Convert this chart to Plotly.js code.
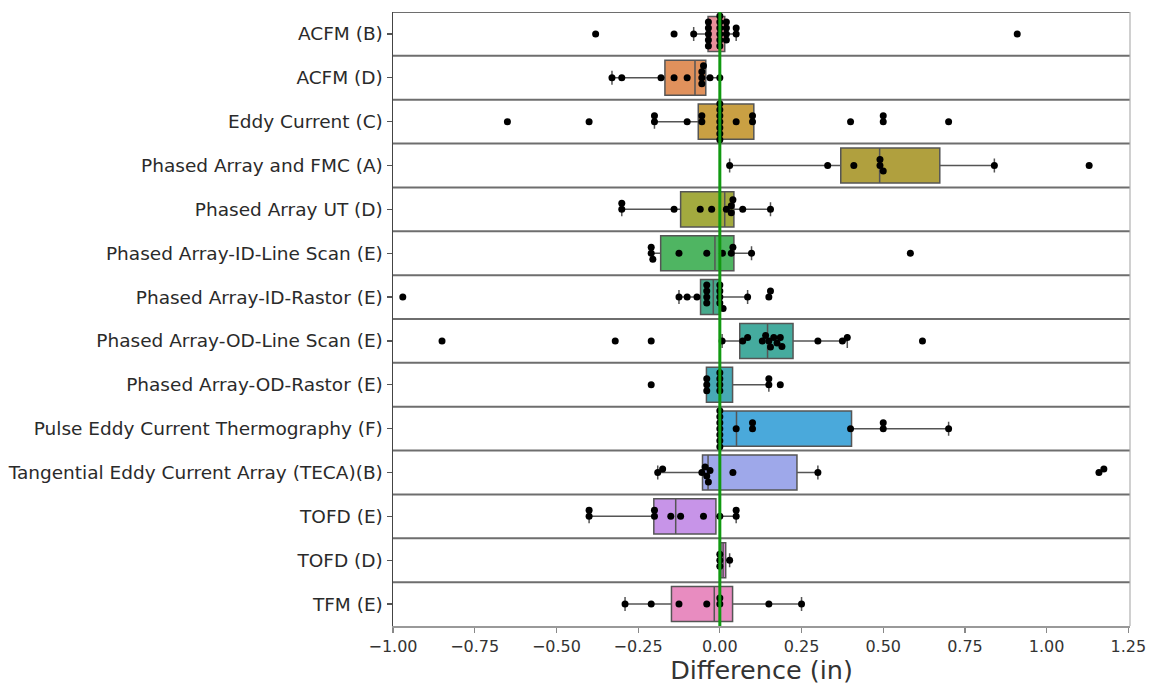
<!DOCTYPE html>
<html>
<head>
<meta charset="utf-8">
<script src="https://cdn.plot.ly/plotly-3.0.1.min.js"></script>
<style>html,body{margin:0;padding:0;background:#fff;}#chart{width:1154px;height:685px;}</style>
</head>
<body>
<div id="chart"></div>
<script>
const categories = [
  "ACFM (B)", "ACFM (D)", "Eddy Current (C)", "Phased Array and FMC (A)",
  "Phased Array UT (D)", "Phased Array-ID-Line Scan (E)", "Phased Array-ID-Rastor (E)",
  "Phased Array-OD-Line Scan (E)", "Phased Array-OD-Rastor (E)",
  "Pulse Eddy Current Thermography (F)", "Tangential Eddy Current Array (TECA)(B)",
  "TOFD (E)", "TOFD (D)", "TFM (E)"
];

const pointsACFMB = [-0.38, -0.14, -0.08, -0.035, -0.035, -0.035, -0.035, -0.035, 0.0, 0.0, 0.0, 0.0, 0.0, 0.0, 0.02, 0.02, 0.02, 0.02, 0.05, 0.05, 0.91];
const pointsACFMD = [-0.33, -0.30, -0.18, -0.14, -0.10, -0.055, -0.055, -0.055, -0.05, -0.03, 0.0];
const pointsEddyC = [-0.65, -0.40, -0.20, -0.20, -0.10, -0.055, -0.055, 0, 0, 0, 0, 0, 0, 0, 0.05, 0.10, 0.10, 0.40, 0.50, 0.50, 0.70];
const pointsPAFMC = [0.03, 0.33, 0.41, 0.49, 0.49, 0.50, 0.84, 1.13];
const pointsPAUT = [-0.30, -0.30, -0.14, -0.06, -0.025, 0.02, 0.035, 0.035, 0.04, 0.07, 0.155];
const pointsPAIDLine = [-0.21, -0.21, -0.205, -0.125, -0.04, 0.008, 0.035, 0.04, 0.097, 0.583];
const pointsPAIDRastor = [-0.97, -0.125, -0.10, -0.07, -0.04, -0.04, -0.04, -0.04, 0.0, 0.0, 0.0, 0.0, 0.01, 0.085, 0.15, 0.155];
const pointsPAODLine = [-0.85, -0.32, -0.21, 0.007, 0.07, 0.085, 0.13, 0.14, 0.15, 0.155, 0.165, 0.175, 0.185, 0.19, 0.30, 0.375, 0.39, 0.62];
const pointsPAODRastor = [-0.21, -0.04, -0.04, -0.04, 0, 0, 0, 0, 0.15, 0.15, 0.185];
const pointsPulseEddy = [0, 0, 0, 0, 0, 0, 0, 0.05, 0.10, 0.10, 0.40, 0.50, 0.50, 0.70];
const pointsTECA = [-0.19, -0.175, -0.055, -0.045, -0.04, -0.035, -0.03, 0.04, 0.30, 1.16, 1.175];
const pointsTOFDE = [-0.40, -0.40, -0.20, -0.20, -0.15, -0.12, -0.05, 0.0, 0.05, 0.05];
const pointsTOFDD = [0.0, 0.0, 0.0, 0.03];
const pointsTFME = [-0.29, -0.21, -0.125, -0.04, 0.0, 0.0, 0.15, 0.25];

const allPoints = [pointsACFMB, pointsACFMD, pointsEddyC, pointsPAFMC, pointsPAUT, pointsPAIDLine,
  pointsPAIDRastor, pointsPAODLine, pointsPAODRastor, pointsPulseEddy, pointsTECA, pointsTOFDE, pointsTOFDD, pointsTFME];

const q1Values     = [-0.036, -0.168, -0.066, 0.37, -0.12, -0.181, -0.059, 0.061, -0.041, 0.0, -0.053, -0.202, 0.003, -0.148];
const medianValues = [0.0, -0.076, 0.0, 0.489, 0.015, -0.015, -0.02, 0.146, 0.0, 0.051, -0.036, -0.135, 0.01, -0.017];
const q3Values     = [0.015, -0.043, 0.104, 0.673, 0.043, 0.043, 0.0, 0.224, 0.039, 0.403, 0.236, -0.012, 0.018, 0.039];
const lowerValues  = [-0.08, -0.33, -0.20, 0.03, -0.30, -0.21, -0.125, 0.007, -0.041, 0.0, -0.19, -0.40, 0.0, -0.29];
const upperValues  = [0.05, 0.0, 0.104, 0.84, 0.155, 0.097, 0.085, 0.39, 0.15, 0.70, 0.30, 0.05, 0.03, 0.25];

const xTicks = [-1.0, -0.75, -0.5, -0.25, 0.0, 0.25, 0.5, 0.75, 1.0, 1.25];
const xTickLabels = ["\u22121.00", "\u22120.75", "\u22120.50", "\u22120.25", "0.00", "0.25", "0.50", "0.75", "1.00", "1.25"];

const boxColors = ["#e8909a", "#e0915c", "#c9a043", "#b0a03e", "#a3aa3f", "#4fb562", "#47a98c",
  "#45ab9e", "#47a9b5", "#4aa9db", "#9ea8ea", "#c794e8", "#e08fd8", "#e88cc0"];

// layout geometry
const W = 1154, H = 685;
const margin = {l: 393, r: 24, t: 12, b: 59};
const xRange = [-1.0, 1.255];
const plotW = W - margin.l - margin.r;
const plotH = H - margin.t - margin.b;
const pxPerX = plotW / (xRange[1] - xRange[0]);
const pxPerY = plotH / categories.length;

// simple beeswarm offsets
function swarm(vals, diam) {
  const sorted = vals.map((v, i) => ({v, i})).sort((a, b) => a.v - b.v);
  const placed = [];
  const offs = new Array(vals.length).fill(0);
  for (const p of sorted) {
    const xp = p.v * pxPerX;
    let chosen = 0;
    for (let k = 0; k < 400; k++) {
      const cand = (k === 0) ? 0 : ((k % 2 === 1) ? -Math.ceil(k / 2) * 0.5 : Math.ceil(k / 2) * 0.5);
      let ok = true;
      for (const q of placed) {
        const dx = q.x - xp, dy = q.y - cand;
        if (dx * dx + dy * dy < diam * diam) { ok = false; break; }
      }
      if (ok) { chosen = cand; break; }
    }
    placed.push({x: xp, y: chosen});
    offs[p.i] = chosen / pxPerY;
  }
  return offs;
}

const traces = [];
categories.forEach((c, i) => {
  traces.push({
    type: 'box', orientation: 'h',
    y: [i], q1: [q1Values[i]], median: [medianValues[i]], q3: [q3Values[i]],
    lowerfence: [lowerValues[i]], upperfence: [upperValues[i]],
    fillcolor: boxColors[i], line: {color: '#555555', width: 1.5},
    width: 0.8, whiskerwidth: 0.4, boxpoints: false, showlegend: false, hoverinfo: 'skip'
  });
});

const px = [], py = [];
allPoints.forEach((vals, i) => {
  const offs = swarm(vals, 6.0);
  vals.forEach((v, j) => { px.push(v); py.push(i + offs[j]); });
});
traces.push({
  type: 'scatter', mode: 'markers', x: px, y: py,
  marker: {color: '#000000', size: 7}, showlegend: false, hoverinfo: 'skip', cliponaxis: true
});

const shapes = [];
for (let k = 0; k < categories.length; k++) {
  shapes.push({type: 'line', xref: 'paper', yref: 'y', x0: 0, x1: 1, y0: k - 0.5, y1: k - 0.5,
    line: {color: '#6e6e6e', width: 2}, layer: 'below'});
}
shapes.push({type: 'line', xref: 'paper', yref: 'paper', x0: 1, x1: 1, y0: 0, y1: 1,
  line: {color: '#b0b0b0', width: 1.2}, layer: 'above'});
shapes.push({type: 'line', xref: 'x', yref: 'paper', x0: 0, x1: 0, y0: 0, y1: 1,
  line: {color: '#119911', width: 3}, layer: 'above'});

const layout = {
  width: W, height: H, margin: margin,
  paper_bgcolor: '#ffffff', plot_bgcolor: '#ffffff',
  font: {family: 'DejaVu Sans, sans-serif', color: '#2a2a2a'},
  boxmode: 'overlay',
  xaxis: {
    range: xRange, tickvals: xTicks, ticktext: xTickLabels,
    ticks: 'outside', ticklen: 5, tickcolor: '#888', tickwidth: 1.2,
    tickfont: {size: 16, color: '#333'}, showgrid: false, zeroline: false,
    showline: true, linecolor: '#999', linewidth: 1.5,
    title: {text: 'Difference (in)', font: {size: 25.5, color: '#333'}, standoff: 3}
  },
  yaxis: {
    range: [categories.length - 0.5, -0.5], tickvals: categories.map((c, i) => i), ticktext: categories,
    ticks: 'outside', ticklen: 5, tickcolor: '#555', tickwidth: 1.2,
    tickfont: {size: 18.5, color: '#2a2a2a'}, showgrid: false, zeroline: false,
    showline: true, linecolor: '#444', linewidth: 1.5
  },
  shapes: shapes
};

Plotly.newPlot('chart', traces, layout, {staticPlot: true, displayModeBar: false});
</script>
</body>
</html>
